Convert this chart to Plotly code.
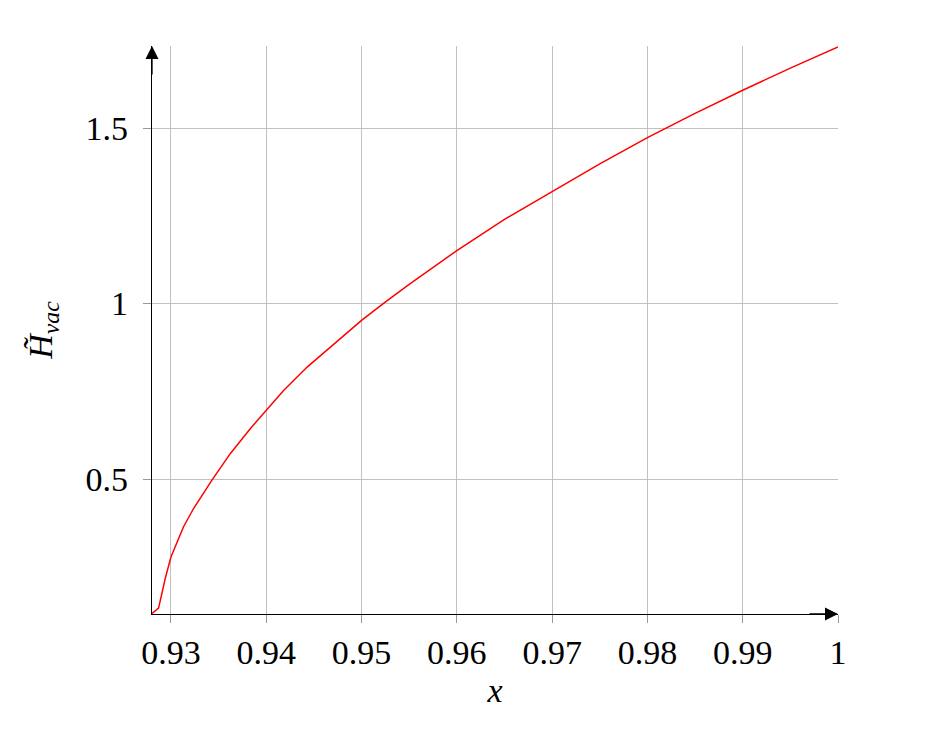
import plotly.graph_objects as go

# values
x_vals = [0.92801, 0.92870, 0.92940, 0.93000, 0.93132, 0.93237, 0.93430, 0.93624,
          0.93834, 0.94000, 0.94184, 0.94429, 0.94674, 0.94884, 0.95000, 0.95227,
          0.95500, 0.96000, 0.96500, 0.97000, 0.97500, 0.98000, 0.98500,
          0.99000, 0.99500, 1.00000]
h_vac = [0.117, 0.132, 0.217, 0.278, 0.364, 0.416, 0.497, 0.573,
         0.644, 0.696, 0.753, 0.819, 0.876, 0.923, 0.952, 1.000,
         1.055, 1.151, 1.240, 1.319, 1.398, 1.473, 1.542,
         1.608, 1.671, 1.731]

x_ticks = [0.93, 0.94, 0.95, 0.96, 0.97, 0.98, 0.99, 1.0]
x_tick_text = ["0.93", "0.94", "0.95", "0.96", "0.97", "0.98", "0.99", "1"]
y_ticks = [0.5, 1.0, 1.5]
y_tick_text = ["0.5", "1", "1.5"]

FONT = "Liberation Serif"

fig = go.Figure()
fig.add_trace(go.Scatter(
    x=x_vals, y=h_vac,
    mode="lines",
    line=dict(color="#ff0000", width=1.5),
    showlegend=False,
    hoverinfo="skip",
))

axis_common = dict(
    showgrid=True,
    gridcolor="#c0c0c0",
    gridwidth=1,
    zeroline=False,
    showline=True,
    linecolor="black",
    linewidth=1.3,
    ticks="outside",
    ticklen=8,
    tickwidth=1,
    tickcolor="#999999",
    tickfont=dict(family=FONT, size=34, color="black"),
)

fig.update_xaxes(
    range=[0.92801, 1.0],
    tickvals=x_ticks,
    ticktext=x_tick_text,
    title=dict(text="<i>x</i>", font=dict(family=FONT, size=34, color="black"), standoff=8),
    **axis_common,
)
fig.update_yaxes(
    range=[0.1154, 1.734],
    tickvals=y_ticks,
    ticktext=y_tick_text,
    ticklabelstandoff=8,
    title=dict(text="<i>H\u0303<sub>vac</sub></i>", font=dict(family=FONT, size=34, color="black"), standoff=22),
    **axis_common,
)

# arrow heads on the axis lines
for tip, off in [((1, 0), (-30, 0)), ((0, 1), (0, 30))]:
    fig.add_annotation(
        x=tip[0], y=tip[1], xref="paper", yref="paper",
        ax=off[0], ay=off[1], axref="pixel", ayref="pixel",
        showarrow=True, arrowhead=2, arrowsize=2, arrowwidth=1.3,
        arrowcolor="black", text="", standoff=0,
    )

# page body has an 8px margin, so the figure is a little smaller than the window
fig.update_layout(
    width=910,
    height=716,
    margin=dict(l=144, r=80, t=38, b=110),
    paper_bgcolor="white",
    plot_bgcolor="white",
    font=dict(family=FONT, color="black"),
)

fig.write_html("out.html")
